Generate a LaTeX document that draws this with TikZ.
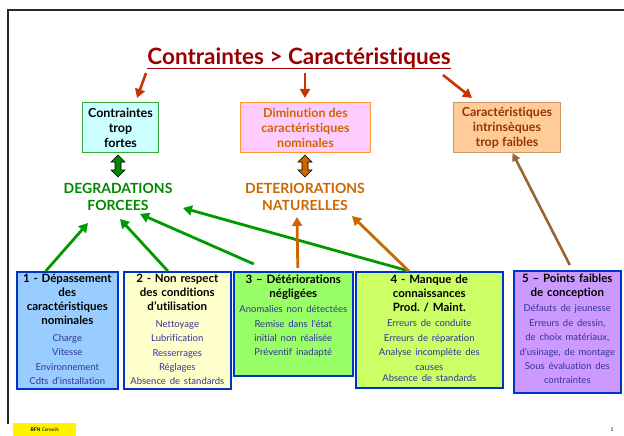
\documentclass[tikz,border=0pt]{standalone}
\usepackage{fontspec}
\setmainfont{Lato}[Ligatures={NoCommon}]
\usetikzlibrary{arrows.meta}
\frenchspacing
\definecolor{titlered}{HTML}{990000}
\definecolor{arrred}{HTML}{CC3300}
\definecolor{grn}{HTML}{009900}
\definecolor{grntxt}{HTML}{008800}
\definecolor{org}{HTML}{CC6600}
\definecolor{brn}{HTML}{996633}
\definecolor{brntxt}{HTML}{993300}
\definecolor{itemc}{HTML}{333399}
\definecolor{boxblue}{HTML}{0033CC}
\definecolor{fillA}{HTML}{99CCFF}
\definecolor{fillB}{HTML}{FFFFCC}
\definecolor{fillC}{HTML}{99FF66}
\definecolor{fillD}{HTML}{CCFF66}
\definecolor{fillE}{HTML}{CC99FF}
\definecolor{fillT1}{HTML}{CCFFFF}
\definecolor{fillT2}{HTML}{FFCCFF}
\definecolor{fillT3}{HTML}{FFCC99}
\definecolor{bordT1}{HTML}{33AA33}
\definecolor{bordT2}{HTML}{FF9933}
\definecolor{bordT3}{HTML}{CC9966}
\newcommand\itm{\fontsize{9.5}{14.5}\selectfont\mdseries\color{itemc}}
\begin{document}
\begin{tikzpicture}[x=1pt,y=-1pt,
  bbox/.style={draw=boxblue, line width=1.6pt, anchor=north west, inner sep=0pt},
  btxt/.style={anchor=north, align=center, inner sep=0pt, font=\fontsize{11.5}{14}\selectfont\bfseries},
  tbox/.style={line width=1pt, anchor=north west, inner sep=0pt},
  ttxt/.style={align=center, inner sep=0pt, font=\fontsize{12.5}{15}\selectfont\bfseries},
  lbl/.style={align=center, inner sep=0pt, font=\fontsize{14}{17}\selectfont\bfseries},
  redarr/.style={arrred, line width=2.6pt, -{Triangle[length=9pt,width=10pt]}},
  grnarr/.style={grn, line width=2.8pt, -{Triangle[length=9pt,width=10pt]}},
  orgarr/.style={org, line width=2.8pt, -{Triangle[length=9pt,width=10pt]}},
  brnarr/.style={brn, line width=2.6pt, -{Triangle[length=8pt,width=8pt]}},
  dblarr/.style={draw=black, line width=0.6pt}
]
\useasboundingbox (0,0) rectangle (624,436);
% frame
\draw[black!85, line width=2pt] (8,424) -- (8,10) -- (624,10);

% title
\node[inner sep=0pt, text=titlered, font=\bfseries\fontsize{22.5}{26}\selectfont] (title) at (299,58) {Contraintes > Caractéristiques};
\draw[titlered, line width=1.8pt] (title.south west) -- (title.south east);

% top boxes
\node[tbox, draw=bordT1, fill=fillT1, minimum width=76pt, minimum height=50pt] (t1) at (82,102) {};
\node[ttxt] (t1t) at (t1.center) {Contraintes\\trop\\fortes};
\node[tbox, draw=bordT2, fill=fillT2, minimum width=130pt, minimum height=50pt] (t2) at (240,102) {};
\node[ttxt, text=org] (t2t) at (t2.center) {Diminution des\\caractéristiques\\nominales};
\node[tbox, draw=bordT3, fill=fillT3, minimum width=107pt, minimum height=50pt] (t3) at (453,102) {};
\node[ttxt, text=brntxt] (t3t) at (t3.center) {Caractéristiques\\intrinsèques\\trop faibles};

% red arrows
\coordinate (r1s) at (146,73); \coordinate (r1e) at (137,98);
\coordinate (r2s) at (305,73); \coordinate (r2e) at (305,98);
\coordinate (r3s) at (443,75); \coordinate (r3e) at (472,98);
\draw[redarr] (r1s) -- (r1e);
\draw[redarr] (r2s) -- (r2e);
\draw[redarr] (r3s) -- (r3e);

% double arrows
\filldraw[dblarr, fill=grntxt, shift={(118,0)}] (0,155) -- (7,162) -- (3,162) -- (3,170) -- (7,170) -- (0,177) -- (-7,170) -- (-3,170) -- (-3,162) -- (-7,162) -- cycle;
\filldraw[dblarr, fill=org, shift={(305,0)}] (0,155) -- (7,162) -- (3,162) -- (3,170) -- (7,170) -- (0,177) -- (-7,170) -- (-3,170) -- (-3,162) -- (-7,162) -- cycle;

% labels
\node[lbl, text=grntxt] (deg) at (118,197) {DEGRADATIONS\\FORCEES};
\node[lbl, text=org] (det) at (305,197) {DETERIORATIONS\\NATURELLES};

% bottom boxes
\node[bbox, fill=fillA, minimum width=101pt, minimum height=117pt] (A) at (16,271) {};
\node[bbox, fill=fillB, minimum width=107pt, minimum height=117pt] (B) at (123,271) {};
\node[bbox, fill=fillC, minimum width=119pt, minimum height=104pt] (C) at (233,271) {};
\node[bbox, fill=fillD, minimum width=147pt, minimum height=116pt] (D) at (355,271) {};
\node[bbox, fill=fillE, minimum width=107pt, minimum height=122pt] (E) at (513,270) {};

\node[btxt, text width=99pt] (At) at ([yshift=-2.5pt]A.north) {1 - Dépassement\\des\\caractéristiques\\nominales\\[2.5pt]{\itm Charge\\Vitesse\\Environnement\\Cdts d'installation}};
\node[btxt, text width=105pt] (Bt) at ([yshift=-2.5pt]B.north) {2 - Non respect\\des conditions\\d'utilisation\\[2.5pt]{\itm Nettoyage\\Lubrification\\Resserrages\\Réglages\\Absence de standards}};
\node[btxt, text width=117pt] (Ct) at ([yshift=-3.5pt]C.north) {3 – Détériorations\\négligées\\[1pt]{\itm Anomalies non détectées\\Remise dans l'état\\initial non réalisée\\Préventif inadapté}};
\node[btxt, text width=145pt] (Dt) at ([yshift=-3.5pt]D.north) {4 - Manque de\\connaissances\\Prod. / Maint.\\[1pt]{\itm Erreurs de conduite\\Erreurs de réparation\\Analyse incomplète des\\causes\\[-3pt]Absence de standards}};
\node[btxt, text width=105pt] (Et) at ([yshift=-3.5pt]E.north) {5 – Points faibles\\de conception\\[1pt]{\itm Défauts de jeunesse\\Erreurs de dessin,\\de choix matériaux,\\d'usinage, de montage\\Sous évaluation des\\contraintes}};

% connectors to labels
\coordinate (g1e) at (88,223);
\coordinate (g2e) at (120,219);
\coordinate (g3e) at (140,214);
\coordinate (g4e) at (183,208);
\coordinate (o1e) at (297,217);
\coordinate (o2e) at (352,216);
\draw[grnarr] ([xshift=-21.5pt]A.north) -- (g1e);
\draw[grnarr] ([xshift=-9.5pt]B.north) -- (g2e);
\draw[grnarr] ([xshift=-39.5pt,yshift=7pt]C.north) -- (g3e);
\draw[grnarr] ([xshift=-20.5pt]D.north) -- (g4e);
\draw[orgarr] ([xshift=4.5pt,yshift=3pt]C.north) -- (o1e);
\draw[orgarr] ([xshift=-20.5pt]D.north) -- (o2e);
\draw[brnarr] ([xshift=2.5pt,yshift=5pt]E.north) -- ([xshift=5.5pt]t3.south);

% footer
\node[fill=yellow, inner sep=0pt, minimum width=63pt, minimum height=13pt, anchor=south west, font=\fontsize{5}{6}\selectfont] (foot) at (13,436) {\textbf{BFN} \textit{Conseils}};
\node[inner sep=0pt, font=\fontsize{5}{6}\selectfont] (pg) at (612,430) {1};
\end{tikzpicture}
\end{document}
